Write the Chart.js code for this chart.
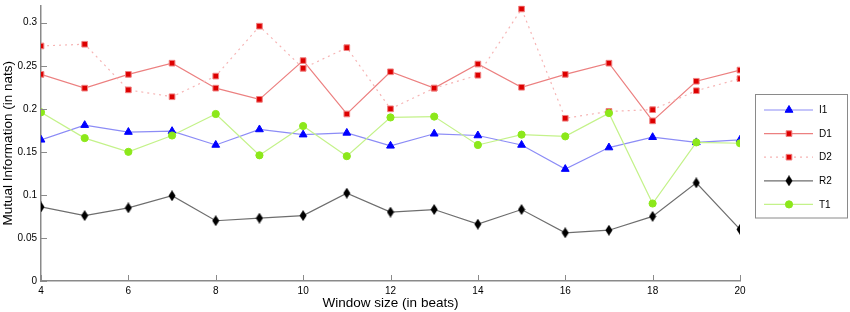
<!DOCTYPE html>
<html>
<head>
<meta charset="utf-8">
<script src="https://cdn.jsdelivr.net/npm/chart.js@4.4.1/dist/chart.umd.min.js"></script>
<style>
  html, body { margin: 0; padding: 0; background: #fff; }
  #wrap { width: 850px; height: 312px; }
</style>
</head>
<body>
<div id="wrap"><canvas id="miChart" width="850" height="312"></canvas></div>
<script>
// window sizes (beats)
const windowSizes = [4, 5, 6, 7, 8, 9, 10, 11, 12, 13, 14, 15, 16, 17, 18, 19, 20];
const seriesNames = ['I1', 'D1', 'D2', 'R2', 'T1'];

// mutual information values
const valuesI1 = [0.164, 0.181, 0.173, 0.174, 0.158, 0.176, 0.170, 0.172, 0.157, 0.171, 0.169, 0.158, 0.130, 0.155, 0.167, 0.161, 0.164];
const valuesD1 = [0.240, 0.224, 0.240, 0.253, 0.224, 0.211, 0.256, 0.194, 0.243, 0.224, 0.252, 0.225, 0.240, 0.253, 0.186, 0.232, 0.245];
const valuesD2 = [0.273, 0.275, 0.222, 0.214, 0.238, 0.296, 0.247, 0.271, 0.200, 0.224, 0.239, 0.316, 0.189, 0.197, 0.199, 0.221, 0.235];
const valuesR2 = [0.086, 0.076, 0.085, 0.099, 0.070, 0.073, 0.076, 0.102, 0.080, 0.083, 0.066, 0.083, 0.056, 0.059, 0.075, 0.114, 0.060];
const valuesT1 = [0.196, 0.166, 0.150, 0.169, 0.194, 0.146, 0.180, 0.145, 0.190, 0.191, 0.158, 0.170, 0.168, 0.195, 0.090, 0.161, 0.160];

const xTicks = [4, 6, 8, 10, 12, 14, 16, 18, 20];
const yTicks = [0, 0.05, 0.1, 0.15, 0.2, 0.25, 0.3];

const FONT = '"Liberation Sans", Arial, Helvetica, sans-serif';
const toPoints = vals => vals.map((v, i) => ({ x: windowSizes[i], y: v }));

// narrow diamond marker like the matlab one
function makeDiamond() {
    const c = document.createElement('canvas');
    c.width = 8; c.height = 11;
    const g = c.getContext('2d');
    g.fillStyle = '#000';
    g.beginPath();
    g.moveTo(4, 0); g.lineTo(7.5, 5.5); g.lineTo(4, 11); g.lineTo(0.5, 5.5);
    g.closePath();
    g.fill();
    return c;
}
const diamond = makeDiamond();

// inner tick marks on the left and bottom axes
const innerTicks = {
    id: 'innerTicks',
    afterDatasetsDraw(chart) {
        const ctx = chart.ctx;
        const xs = chart.scales.x, ys = chart.scales.y;
        const area = chart.chartArea;
        ctx.save();
        ctx.strokeStyle = '#8a8a8a';
        ctx.lineWidth = 1;
        ctx.beginPath();
        xTicks.forEach(t => {
            const px = Math.round(xs.getPixelForValue(t)) + 0.5;
            ctx.moveTo(px, area.bottom);
            ctx.lineTo(px, area.bottom - 6);
        });
        yTicks.forEach(t => {
            const py = Math.round(ys.getPixelForValue(t)) + 0.5;
            ctx.moveTo(area.left, py);
            ctx.lineTo(area.left + 6, py);
        });
        ctx.stroke();
        ctx.restore();
    }
};

// boxed legend on the right side
const boxLegend = {
    id: 'boxLegend',
    afterDraw(chart) {
        const ctx = chart.ctx;
        const bx = 755.5, by = 94.5, bw = 92, bh = 123.5;
        ctx.save();
        ctx.fillStyle = '#fff';
        ctx.fillRect(bx, by, bw, bh);
        ctx.strokeStyle = '#8a8a8a';
        ctx.lineWidth = 1;
        ctx.strokeRect(bx, by, bw, bh);
        ctx.font = '10px ' + FONT;
        ctx.textBaseline = 'middle';
        chart.data.datasets.forEach((ds, i) => {
            const y = 110 + i * 23.6;
            ctx.strokeStyle = ds.borderColor;
            ctx.lineWidth = ds.borderWidth;
            ctx.setLineDash(ds.borderDash || []);
            ctx.beginPath();
            ctx.moveTo(764, y);
            ctx.lineTo(813, y);
            ctx.stroke();
            ctx.setLineDash([]);
            ctx.fillStyle = ds.pointBackgroundColor;
            ctx.strokeStyle = ds.pointBorderColor;
            ctx.lineWidth = ds.pointBorderWidth;
            Chart.helpers.drawPoint(ctx, {
                pointStyle: ds.pointStyle,
                radius: ds.pointRadius,
                rotation: 0,
                borderWidth: ds.pointBorderWidth
            }, 789, y);
            ctx.fillStyle = '#000';
            ctx.fillText(ds.label, 819, y + 0.5);
        });
        ctx.restore();
    }
};

const ctx = document.getElementById('miChart').getContext('2d');
new Chart(ctx, {
    type: 'line',
    data: {
        datasets: [
            {
                label: seriesNames[0],
                data: toPoints(valuesI1),
                borderColor: '#8c8cf6',
                borderWidth: 1.2,
                pointStyle: 'triangle',
                pointRadius: 4.5,
                pointBackgroundColor: '#0000ff',
                pointBorderColor: '#0000ff',
                pointBorderWidth: 1,
                order: 5
            },
            {
                label: seriesNames[1],
                data: toPoints(valuesD1),
                borderColor: '#ec8080',
                borderWidth: 1.2,
                pointStyle: 'rect',
                pointRadius: 4,
                pointBackgroundColor: '#dd0000',
                pointBorderColor: '#f08080',
                pointBorderWidth: 1,
                order: 4
            },
            {
                label: seriesNames[2],
                data: toPoints(valuesD2),
                borderColor: '#f6b4b4',
                borderWidth: 1.2,
                borderDash: [2, 4],
                pointStyle: 'rect',
                pointRadius: 4,
                pointBackgroundColor: '#dd0000',
                pointBorderColor: '#f08080',
                pointBorderWidth: 1,
                order: 3
            },
            {
                label: seriesNames[3],
                data: toPoints(valuesR2),
                borderColor: '#6e6e6e',
                borderWidth: 1.2,
                pointStyle: diamond,
                pointRadius: 4,
                pointBackgroundColor: '#000',
                pointBorderColor: '#000',
                pointBorderWidth: 0,
                order: 2
            },
            {
                label: seriesNames[4],
                data: toPoints(valuesT1),
                borderColor: '#c4f28a',
                borderWidth: 1.2,
                pointStyle: 'circle',
                pointRadius: 3.6,
                pointBackgroundColor: '#8ce81a',
                pointBorderColor: '#8ce81a',
                pointBorderWidth: 1,
                order: 1
            }
        ]
    },
    options: {
        responsive: false,
        animation: false,
        events: [],
        layout: {
            padding: { left: 0, right: 110, top: -2, bottom: 0 }
        },
        plugins: {
            legend: { display: false },
            tooltip: { enabled: false }
        },
        scales: {
            x: {
                type: 'linear',
                min: 4,
                max: 20,
                afterBuildTicks: scale => { scale.ticks = xTicks.map(v => ({ value: v })); },
                afterFit: scale => { scale.height = 31; },
                grid: { display: true, drawOnChartArea: false, drawTicks: false },
                border: { color: '#8a8a8a', width: 1.5 },
                ticks: {
                    padding: 4,
                    color: '#000',
                    maxRotation: 0,
                    font: { family: FONT, size: 10 }
                },
                title: {
                    display: true,
                    text: 'Window size (in beats)',
                    color: '#000',
                    padding: { top: 0, bottom: 1 },
                    font: { family: FONT, size: 13.5 }
                }
            },
            y: {
                type: 'linear',
                min: 0,
                max: 0.32,
                afterBuildTicks: scale => { scale.ticks = yTicks.map(v => ({ value: v })); },
                afterFit: scale => {
                    scale.width = 41;
                    scale.paddingTop = 0;
                    scale.paddingBottom = 0;
                },
                grid: { display: true, drawOnChartArea: false, drawTicks: false },
                border: { color: '#8a8a8a', width: 1.5 },
                ticks: {
                    padding: 4,
                    color: '#000',
                    callback: v => String(Math.round(v * 100) / 100),
                    font: { family: FONT, size: 10 }
                },
                title: {
                    display: true,
                    text: 'Mutual Information (in nats)',
                    color: '#000',
                    padding: { top: 0, bottom: 0 },
                    font: { family: FONT, size: 13.5 }
                }
            }
        }
    },
    plugins: [innerTicks, boxLegend]
});
</script>
</body>
</html>
